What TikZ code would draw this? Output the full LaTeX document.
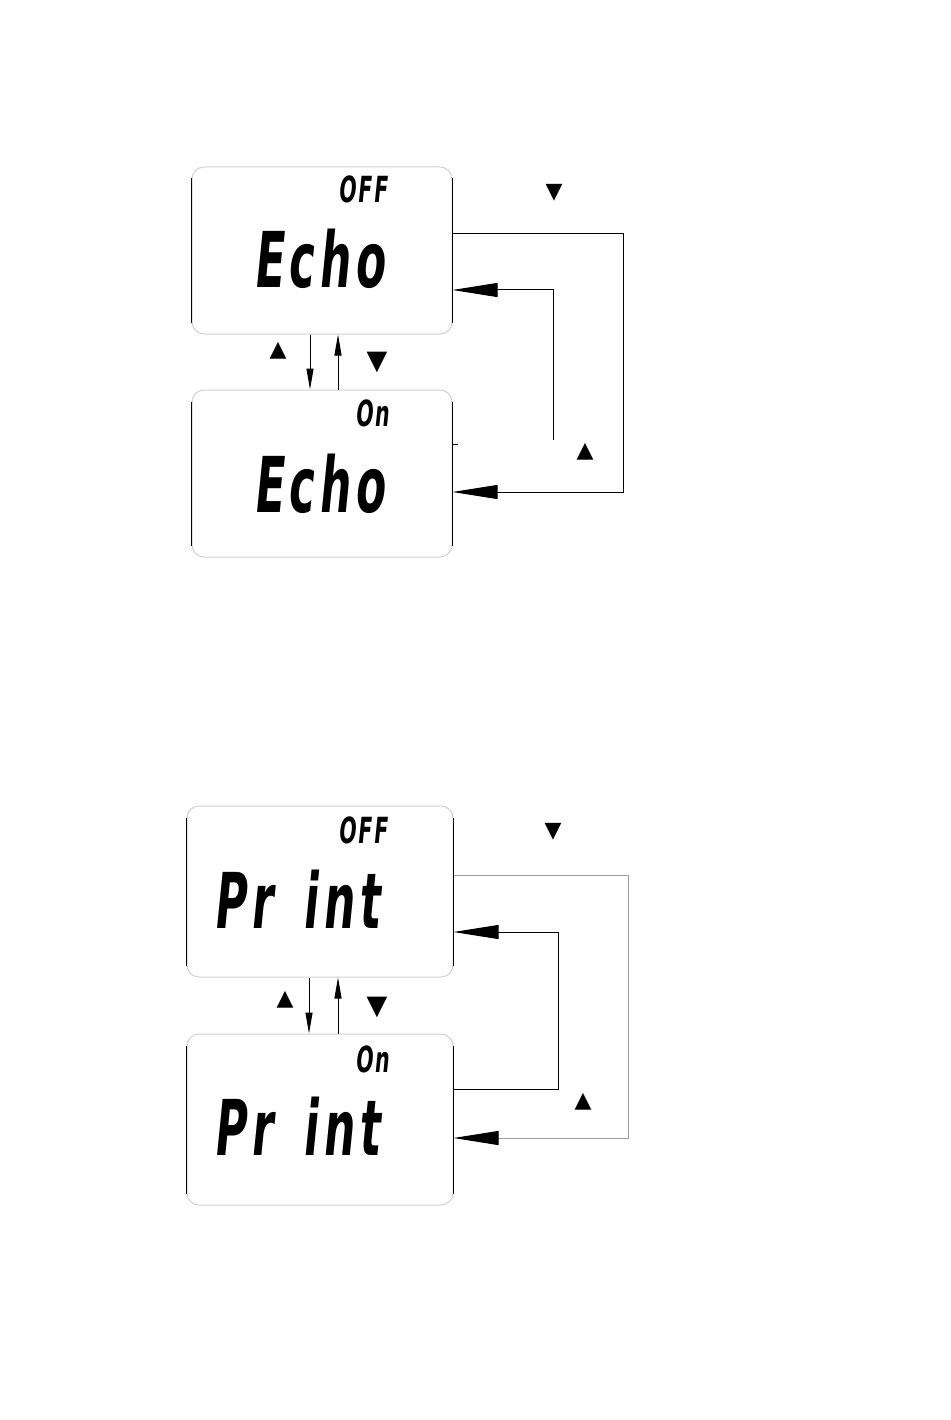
\documentclass[tikz,border=0pt]{standalone}
\usepackage{fontspec}
\usepackage{tikz}
\usetikzlibrary{arrows.meta}
\usetikzlibrary{positioning}
\newfontfamily\lcdfont[FakeStretch=0.57,FakeSlant=0.1,LetterSpace=6]{DejaVu Sans}
\newfontfamily\keyfont{DejaVu Sans}
\definecolor{boxgray}{gray}{0.82}
\definecolor{wiregray}{gray}{0.62}

\begin{document}
\begin{tikzpicture}[x=1pt, y=-1pt,
    lcdbox/.style={draw=boxgray, line width=1pt, rounded corners=12pt,
      minimum width=260pt, minimum height=167pt, inner sep=0pt},
    side/.style={line width=1.2pt},
    lcdbig/.style={font=\lcdfont\bfseries\fontsize{77}{80}\selectfont, anchor=base, inner sep=0pt},
    lcdsmall/.style={font=\lcdfont\bfseries\fontsize{36}{40}\selectfont, anchor=base, inner sep=0pt},
    keysym/.style={font=\keyfont\fontsize{22}{24}\selectfont, inner sep=0pt},
    wire/.style={line width=1pt},
    into/.style={-{Triangle[length=45pt,width=14pt,color=black]}},
    step arrow/.style={line width=1pt, -{Triangle[length=21pt,width=7pt]}}
  ]
  \useasboundingbox (0,0) rectangle (950,1420);

  % echo menu
  \node[lcdbox] (echooff) at (322,250.5) {};
  \node[lcdbox] (echoon) at (322,473.5) {};
  \node[lcdsmall] (echooffval) at (363,203) {OFF};
  \node[lcdbig] (echooffname) at (319,288) {Echo};
  \node[lcdsmall] (echoonval) at (372.5,426) {On};
  \node[lcdbig] (echoonname) at (319,512) {Echo};

  \node[keysym] (echodnkey) at (554,193) {▼};
  \node[keysym] (echoupkey) at (585,452) {▲};
  \node[keysym] (echoupmid) at (278,351) {▲};
  \node[keysym, font=\keyfont\fontsize{27}{29}\selectfont] (echodnmid) at (377,362) {▼};

  \draw[step arrow] ([xshift=-12pt]echooff.south) -- ([xshift=-12pt]echoon.north);
  \draw[step arrow] ([xshift=16pt]echoon.north) -- ([xshift=16pt]echooff.south);

  \draw[wire, into] ([yshift=16.5pt]echooff.east) -- ++(171,0) |- ([yshift=-18.5pt]echoon.east);
  \coordinate (echotap) at (553,440);
  \draw[wire, into] (echotap) |- ([yshift=-39.5pt]echooff.east);
  \draw[wire] ([yshift=29.5pt]echoon.east) -- ++(5,0);

  % print menu
  \node[lcdbox, minimum width=266pt, minimum height=171pt] (printoff) at (320,891.5) {};
  \node[lcdbox, minimum width=266pt, minimum height=171pt] (printon) at (320,1119.5) {};
  \node[lcdsmall] (printoffval) at (363,843) {OFF};
  \node[lcdbig] (printoffname) at (296.5,928) {Pr\hspace{31pt}int};
  \node[lcdsmall] (printonval) at (372.5,1072) {On};
  \node[lcdbig] (printonname) at (296.5,1155) {Pr\hspace{31pt}int};

  \node[keysym] (printdnkey) at (553,832) {▼};
  \node[keysym] (printupkey) at (583,1102) {▲};
  \node[keysym] (printupmid) at (285,1000) {▲};
  \node[keysym, font=\keyfont\fontsize{27}{29}\selectfont] (printdnmid) at (377,1007) {▼};

  \draw[step arrow] ([xshift=-11pt]printoff.south) -- ([xshift=-11pt]printon.north);
  \draw[step arrow] ([xshift=18pt]printon.north) -- ([xshift=18pt]printoff.south);

  \draw[wire, draw=wiregray, into]
    ([yshift=16.5pt]printoff.east) -- ++(175,0) |- ([yshift=-18.5pt]printon.east);
  \draw[wire, into] ([yshift=30.5pt]printon.east) -- ++(105,0) |- ([yshift=-40.5pt]printoff.east);

  \foreach \b in {echooff,echoon,printoff,printon}
    \draw[side] ([yshift=-12pt]\b.north west) -- ([yshift=12pt]\b.south west)
                ([yshift=-12pt]\b.north east) -- ([yshift=12pt]\b.south east);
\end{tikzpicture}
\end{document}
